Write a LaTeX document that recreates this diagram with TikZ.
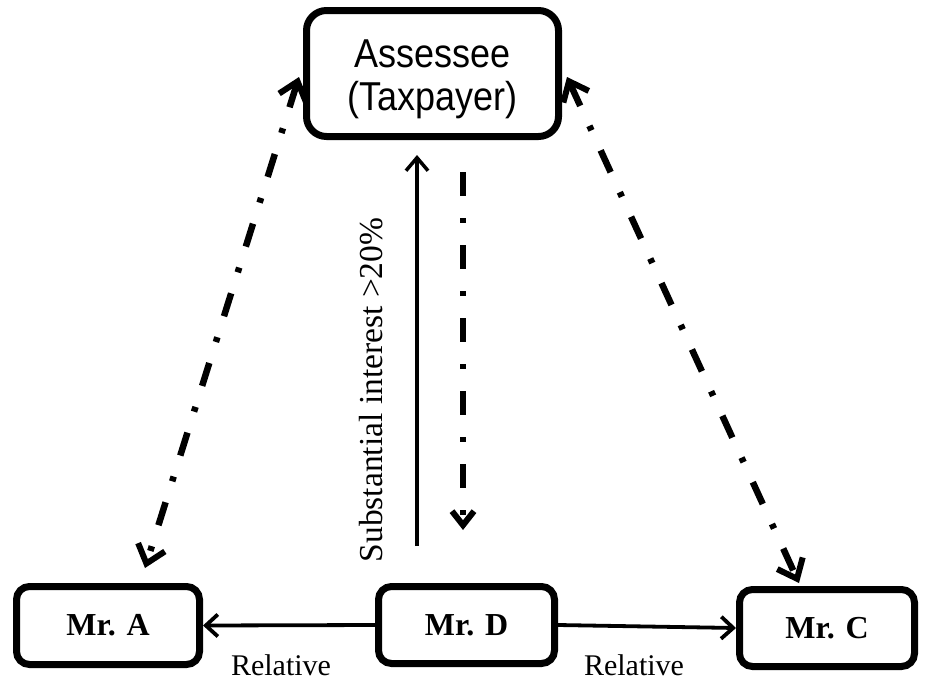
\documentclass[tikz,border=0pt]{standalone}
\usepackage{fontspec}
\setmainfont{Liberation Serif}
\newfontfamily\headfont{Liberation Sans}
\usetikzlibrary{arrows.meta}

\tikzset{
  box/.style={draw=black, line width=7pt, rounded corners=13pt, fill=white,
    inner sep=0pt, align=center},
  personbox/.style={box, minimum width=176pt, minimum height=77pt,
    font=\fontsize{32}{36}\selectfont\bfseries},
  link/.style={line width=3.8pt, -{Straight Barb[length=12pt,width=22pt,line width=3.8pt]}},
  dashdot/.style={line width=6.5pt, dash pattern=on 24pt off 22pt on 5pt off 22pt},
  ddtip/.tip={Straight Barb[length=17pt,width=28pt,line width=6pt]},
  ddtipsmall/.tip={Straight Barb[length=14pt,width=22pt,line width=6pt]},
  lbl/.style={font=\fontsize{30}{34}\selectfont, inner sep=0pt}
}

\begin{document}
\begin{tikzpicture}[x=1pt, y=-1pt]
  \useasboundingbox (0,0) rectangle (925,680);

  % payments from the assessee to the related persons (drawn first, boxes cover the ends)
  \coordinate (vt) at (463,172);
  \coordinate (vb) at (463,530);
  \draw[dashdot, -ddtipsmall] (vt) -- (vb);

  \coordinate (lt) at (299,77);
  \coordinate (lb) at (145,568);
  \draw[dashdot, ddtip-ddtip] (lt) -- (lb);

  \coordinate (rt) at (567,77);
  \coordinate (rb) at (799,583);
  \draw[dashdot, ddtip-ddtip] (rt) -- (rb);

  % the taxpayer at the top
  \node[box, rounded corners=20pt, minimum width=252pt, minimum height=126pt] (ass)
        at (432.5,73.5) {};
  \node[anchor=base, inner sep=0pt, font=\headfont\fontsize{36}{38.4}\selectfont]
        (asstext) at (432.5,67)
        {\scalebox{1}[1.12]{\begin{tabular}[t]{@{}c@{}}Assessee\\(Taxpayer)\end{tabular}}};

  % the three persons on the bottom row
  \node[personbox, minimum width=183pt, minimum height=78pt] (a) at (108,625.5) {Mr. A};
  \node[personbox] (d) at (466.5,625) {Mr. D};
  \node[personbox, minimum width=175pt] (c) at (827,628) {Mr. C};

  % relatives of Mr. D
  \draw[link] (d.west) -- (a.east);
  \draw[link] (d.east) -- (c.west);
  \node[lbl] (rl) at (281,665) {Relative};
  \node[lbl] (rr) at (634,665) {Relative};

  % substantial interest held by Mr. D in the assessee
  \coordinate (sb) at (417,546);
  \coordinate (st) at (417,155);
  \draw[line width=3.5pt, -{Straight Barb[length=13pt,width=22pt,line width=3.5pt]}] (sb) -- (st);
  \node[lbl, font=\fontsize{33.5}{36}\selectfont, rotate=90] (si) at (371,390)
        {Substantial interest >20\%};
\end{tikzpicture}
\end{document}
